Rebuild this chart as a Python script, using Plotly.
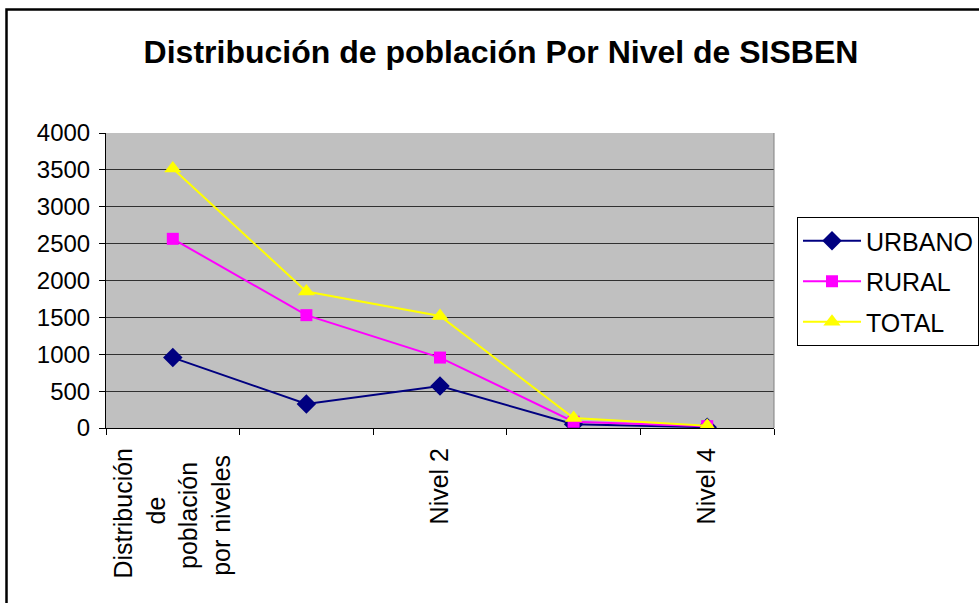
import plotly.graph_objects as go

NB = "\u00a0"
categories = ["Distribución de población por niveles", "Nivel 1", "Nivel 2", "Nivel 3", "Nivel 4"]
tick_labels = ["Distribución<br>de" + NB * 7 + "<br>población" + NB * 2 + "<br>por niveles" + NB,
               "", "Nivel 2", "", "Nivel 4"]
urbano = [955, 325, 570, 50, 10]
rural = [2565, 1530, 955, 85, 25]
total = [3520, 1850, 1520, 135, 30]
y_ticks = [0, 500, 1000, 1500, 2000, 2500, 3000, 3500, 4000]

FONT = "Liberation Sans, Arial, sans-serif"

W, H = 979, 603
L, R, T, B = 106, 205, 133, 175
pw, ph = W - L - R, H - T - B

fig = go.Figure()
series = [
    ("URBANO", urbano, "#000080", "diamond", 15),
    ("RURAL", rural, "#FF00FF", "square", 12),
    ("TOTAL", total, "#FFFF00", "triangle-up", 15),
]
for name, vals, col, sym, msize in series:
    fig.add_trace(go.Scatter(
        x=categories, y=vals, name=name, mode="lines+markers",
        line=dict(color=col, width=2),
        marker=dict(color=col, symbol=sym, size=msize, line=dict(width=0)),
        legendgroup=name,
    ))

fig.update_layout(
    width=W, height=H,
    margin=dict(l=L, r=R, t=T, b=B, autoexpand=False),
    paper_bgcolor="white",
    plot_bgcolor="#C0C0C0",
    font=dict(family=FONT, size=24, color="black"),
    title=dict(text="<b>Distribución de población Por Nivel de SISBEN</b>",
               x=501 / W, xref="container", xanchor="center",
               y=1 - 52 / H, yref="container", yanchor="middle",
               font=dict(family=FONT, size=32, color="black")),
    showlegend=True,
    legend=dict(x=797 / W, xref="container", xanchor="left",
                y=1 - 217 / H, yref="container", yanchor="top",
                bordercolor="black", borderwidth=1, bgcolor="white",
                font=dict(family=FONT, size=25, color="black"),
                itemwidth=58, tracegroupgap=5, traceorder="grouped"),
    xaxis=dict(
        type="category", categoryorder="array", categoryarray=categories,
        range=[-0.5, len(categories) - 0.5],
        tickmode="array", tickvals=categories, ticktext=tick_labels,
        tickson="boundaries", ticks="outside", ticklen=6, tickcolor="black",
        tickangle=-90, showgrid=False, showline=True, linecolor="black", linewidth=1,
        tickfont=dict(family=FONT, size=25, color="black"),
        ticklabelstandoff=9,
        zeroline=False, mirror=False,
    ),
    yaxis=dict(
        range=[0, 4000], tickmode="array", tickvals=y_ticks,
        ticks="outside", ticklen=6, tickcolor="black",
        showgrid=True, gridcolor="#303030", gridwidth=1,
        showline=True, linecolor="black", linewidth=1,
        tickfont=dict(family=FONT, size=24, color="black"),
        ticklabelstandoff=4,
        zeroline=False,
    ),
    shapes=[
        dict(type="line", xref="paper", yref="paper", x0=1, x1=1, y0=0, y1=1,
             line=dict(color="#808080", width=1)),
        dict(type="rect", xref="paper", yref="paper",
             x0=(6.5 - L) / pw, x1=(995 - L) / pw,
             y0=(H - B - 640) / ph, y1=1 + (T - 9.5) / ph,
             line=dict(color="black", width=2.5), fillcolor="rgba(0,0,0,0)"),
    ],
)

fig.write_html("out.html", config={"displayModeBar": False},
               post_script="document.body.style.margin='0';document.body.style.overflow='hidden';")
